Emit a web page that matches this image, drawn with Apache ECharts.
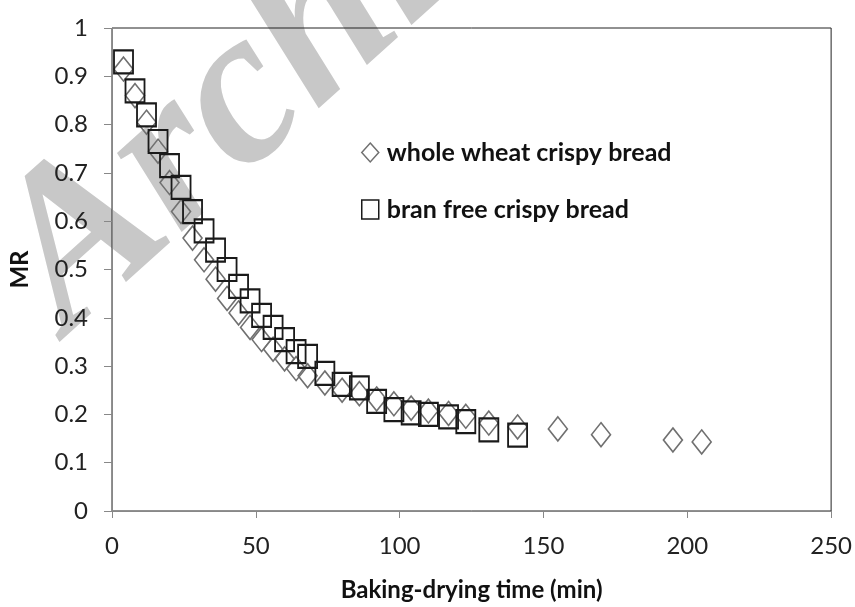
<!DOCTYPE html>
<html>
<head>
<meta charset="utf-8">
<script src="https://cdn.jsdelivr.net/npm/echarts@6/dist/echarts.min.js"></script>
<style>
html,body{margin:0;padding:0;background:#fff;}
#chart{width:855px;height:607px;}
</style>
</head>
<body>
<div id="chart"></div>
<script>
// Data
const wholeWheatTime = [4,8,12,16,20,24,28,32,36,40,44,48,52,56,60,64,68,74,80,86,92,98,104,110,117,123,131,141,155,170,195,205];
const wholeWheatMR   = [0.915,0.86,0.805,0.745,0.68,0.62,0.565,0.52,0.48,0.44,0.41,0.38,0.355,0.335,0.315,0.295,0.28,0.265,0.25,0.243,0.232,0.222,0.213,0.207,0.202,0.196,0.182,0.174,0.17,0.158,0.147,0.143];

const branFreeTime = [4,8,12,16,20,24,28,32,36,40,44,48,52,56,60,64,68,74,80,86,92,98,104,110,117,123,131,141];
const branFreeMR   = [0.93,0.87,0.82,0.765,0.715,0.67,0.62,0.58,0.54,0.5,0.465,0.435,0.405,0.38,0.355,0.33,0.32,0.285,0.262,0.255,0.227,0.21,0.203,0.2,0.195,0.185,0.168,0.157];

const seriesNames = ['whole wheat crispy bread', 'bran free crispy bread'];
const xTicks = [0, 50, 100, 150, 200, 250];
const yTicks = [0, 0.1, 0.2, 0.3, 0.4, 0.5, 0.6, 0.7, 0.8, 0.9, 1];
const xAxisTitle = 'Baking-drying time (min)';
const yAxisTitle = 'MR';
const watermarkText = 'Archive of SID';

const zip = (a, b) => a.map((v, i) => [v, b[i]]);

const chart = echarts.init(document.getElementById('chart'), null, {renderer: 'canvas'});
const fontFam = 'Lato, "DejaVu Sans", sans-serif';

chart.setOption({
  animation: false,
  backgroundColor: '#ffffff',
  graphic: [{
    type: 'text',
    x: 104, y: 374,
    rotation: 42 * Math.PI / 180,
    z: -10,
    silent: true,
    style: {
      text: watermarkText,
      font: 'italic bold 222px "Liberation Serif", "DejaVu Serif", serif',
      fill: '#c8c8c8',
      verticalAlign: 'bottom',
      align: 'left'
    }
  }],
  grid: {
    left: 109, right: 23, top: 28, bottom: 96,
    show: true, borderColor: '#222', borderWidth: 1, backgroundColor: 'transparent'
  },
  legend: {
    orient: 'vertical',
    left: 356, top: 135,
    itemGap: 32,
    itemWidth: 17, itemHeight: 19,
    selectedMode: false,
    textStyle: {fontFamily: fontFam, fontWeight: 'bold', fontSize: 25, color: '#111', lineHeight: 24, padding: [0,0,0,3]},
    data: [
      {name: seriesNames[0], icon: 'diamond', itemStyle: {color: 'rgba(255,255,255,0)', borderColor: '#707070', borderWidth: 1.5}},
      {name: seriesNames[1], icon: 'rect', itemStyle: {color: 'rgba(255,255,255,0)', borderColor: '#1a1a1a', borderWidth: 1.5}}
    ]
  },
  xAxis: {
    type: 'value', min: 0, max: 250, interval: 50,
    name: xAxisTitle, nameLocation: 'middle', nameGap: 67,
    nameTextStyle: {fontFamily: fontFam, fontWeight: 'bold', fontSize: 24, color: '#111'},
    axisLine: {show: true, onZero: false, lineStyle: {color: '#888', width: 1}},
    axisTick: {show: true, inside: false, length: 7, lineStyle: {color: '#888'}},
    axisLabel: {fontFamily: fontFam, fontSize: 24, color: '#222', margin: 23,
      formatter: v => xTicks.includes(v) ? String(v) : ''},
    splitLine: {show: false}
  },
  yAxis: {
    type: 'value', min: 0, max: 1, interval: 0.1,
    name: yAxisTitle, nameLocation: 'middle', nameGap: 80, nameRotate: 90,
    nameTextStyle: {fontFamily: fontFam, fontWeight: 'bold', fontSize: 24, color: '#111'},
    axisLine: {show: true, lineStyle: {color: '#888', width: 1}},
    axisTick: {show: true, inside: false, length: 8, lineStyle: {color: '#888'}},
    axisLabel: {fontFamily: fontFam, fontSize: 24, color: '#222', margin: 24,
      formatter: v => {
        const t = yTicks.find(k => Math.abs(k - v) < 1e-9);
        return t === undefined ? '' : String(t);
      }},
    splitLine: {show: false}
  },
  series: [
    {
      name: seriesNames[0], type: 'scatter', symbol: 'diamond', symbolSize: [19, 24],
      data: zip(wholeWheatTime, wholeWheatMR), z: 2,
      itemStyle: {color: 'rgba(255,255,255,0)', borderColor: '#707070', borderWidth: 1.6, opacity: 1}
    },
    {
      name: seriesNames[1], type: 'scatter', symbol: 'rect', symbolSize: [19, 23],
      data: zip(branFreeTime, branFreeMR), z: 3,
      itemStyle: {color: 'rgba(255,255,255,0)', borderColor: '#1a1a1a', borderWidth: 2, opacity: 1}
    }
  ]
});
</script>
</body>
</html>
